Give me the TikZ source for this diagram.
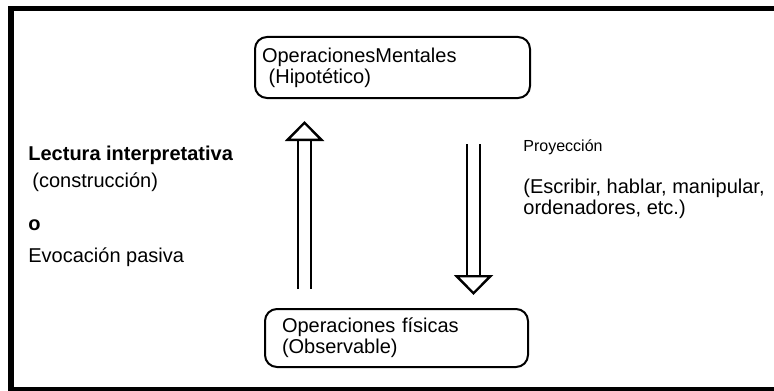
\documentclass[tikz,border=0pt]{standalone}
\usepackage{fontspec}
\setmainfont{Liberation Sans}
\usepackage{tikz}
\usetikzlibrary{arrows.meta,positioning}

\begin{document}
\begin{tikzpicture}[x=0.5pt,y=-0.5pt,font=\fontsize{10}{10.5}\selectfont,
    box/.style={draw,line width=1pt,rounded corners=6pt,align=left,inner ysep=0pt},
    lbl/.style={anchor=west,inner sep=0pt,align=left},
    hollow/.style={draw,line width=1pt,double distance=5.5pt,-{Triangle[open,length=10pt,width=19.5pt,line width=1.2pt]}}]
  \clip (0,0) rectangle (774,390);
  \draw[line width=2.75pt] (11,8.5) rectangle (800,390); % outer frame
  \node[box,minimum width=137.5pt,minimum height=30.5pt,text width=130.5pt,inner xsep=3.5pt] (OM) at (392.5,67.5)
    {OperacionesMentales\\\ (Hipotético)};
  \node[box,minimum width=131.5pt,minimum height=29pt,text width=114.5pt,inner xsep=8.5pt] (OF) at (396.5,338)
    {Operaciones físicas\\(Observable)};
  \draw[hollow,shorten <=9.5pt,shorten >=11pt] ([xshift=-46pt]OF.north)--([xshift=-44pt]OM.south);
  \draw[hollow,shorten <=22.5pt,shorten >=6.5pt] ([xshift=40.5pt]OM.south)--([xshift=38.5pt]OF.north);
  \node[lbl,font=\fontsize{10}{10.5}\selectfont\bfseries] (lec) at (28,155) {Lectura interpretativa};
  \node[lbl] (con) at (32,182) {(construcción)};
  \node[lbl,font=\fontsize{10}{10.5}\selectfont\bfseries] (o) at (28,225) {o};
  \node[lbl] (evo) at (28,257) {Evocación pasiva};
  \node[lbl,font=\fontsize{8}{9}\selectfont] (pro) at (523,147) {Proyección};
  \node[lbl] (esc) at (523,199) {(Escribir, hablar, manipular,\\ordenadores, etc.)};
\end{tikzpicture}
\end{document}
